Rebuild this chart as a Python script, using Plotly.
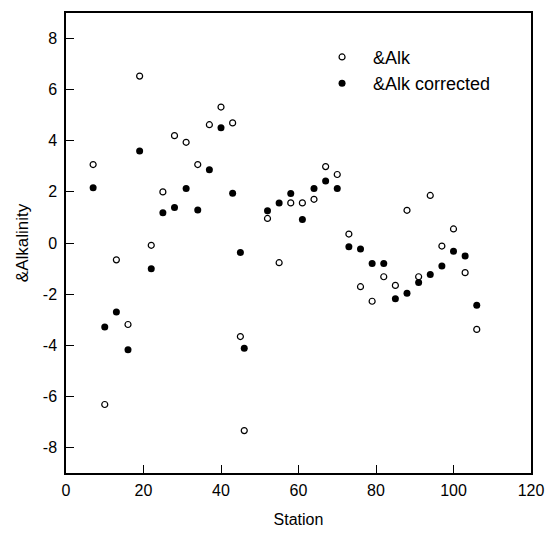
import plotly.graph_objects as go

stations = [7, 10, 13, 16, 19, 22, 25, 28, 31, 34, 37, 40, 43, 45, 46, 52, 55, 58, 61, 64,
            67, 70, 73, 76, 79, 82, 85, 88, 91, 94, 97, 100, 103, 106]
alk = [3.07, -6.32, -0.66, -3.19, 6.53, -0.09, 2.0, 4.2, 3.94, 3.07, 4.63, 5.32, 4.70, -3.66, -7.34,
       0.96, -0.77, 1.57, 1.57, 1.71, 2.99, 2.68, 0.35, -1.71, -2.28, -1.32, -1.66, 1.28, -1.32,
       1.86, -0.12, 0.55, -1.16, -3.38]
alk_corr = [2.16, -3.29, -2.70, -4.18, 3.60, -1.01, 1.18, 1.39, 2.13, 1.29, 2.87, 4.51, 1.95, -0.37,
            -4.12, 1.26, 1.57, 1.94, 0.92, 2.13, 2.43, 2.13, -0.15, -0.23, -0.80, -0.80, -2.18,
            -1.97, -1.55, -1.23, -0.90, -0.32, -0.51, -2.44]
x_ticks = [0, 20, 40, 60, 80, 100, 120]
y_ticks = [-8, -6, -4, -2, 0, 2, 4, 6, 8]
y_tick_labels = ["-8", "-6", "-4", "-2", "0", "2", "4", "6", "8"]

FONT = "Liberation Sans, Arial, sans-serif"

fig = go.Figure()
fig.add_trace(go.Scatter(x=stations, y=alk, mode="markers", name="&Alk",
                         marker=dict(symbol="circle-open", size=6, color="black",
                                     line=dict(width=1.2, color="black"))))
fig.add_trace(go.Scatter(x=stations, y=alk_corr, mode="markers", name="&Alk corrected",
                         marker=dict(symbol="circle", size=7, color="black")))

axis_common = dict(showline=True, linecolor="black", linewidth=1.5, mirror=True,
                   ticks="inside", ticklen=8, tickwidth=1.2, tickcolor="black",
                   showgrid=False, zeroline=False, automargin=False,
                   tickfont=dict(family=FONT, size=16, color="black"))

fig.update_xaxes(range=[0, 120], tickvals=x_ticks,
                 ticklabelstandoff=2,
                 title=dict(text="Station", font=dict(family=FONT, size=16, color="black"), standoff=16),
                 **axis_common)
fig.update_yaxes(range=[-9, 9], tickvals=y_ticks, ticktext=y_tick_labels,
                 ticklabelstandoff=4,
                 title=dict(text="&Alkalinity", font=dict(family=FONT, size=17, color="black"), standoff=10),
                 **axis_common)

fig.update_layout(width=546, height=535, margin=dict(l=66, r=15, t=13, b=62),
                  paper_bgcolor="white", plot_bgcolor="white",
                  showlegend=True,
                  legend=dict(x=0.527, y=0.944, xanchor="left", yanchor="top",
                              itemwidth=52,
                              bgcolor="rgba(0,0,0,0)",
                              font=dict(family=FONT, size=18, color="black")))

fig.write_html("out.html")
